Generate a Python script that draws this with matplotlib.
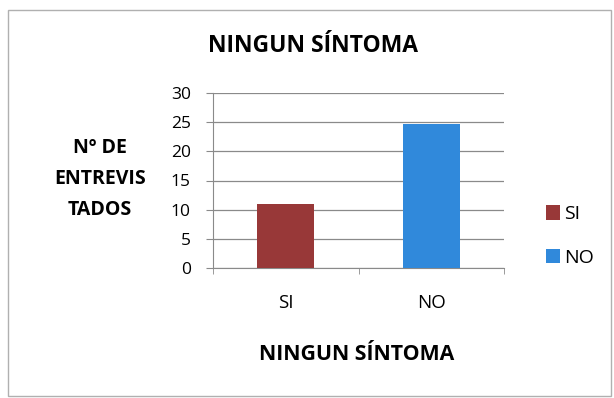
import matplotlib.pyplot as plt
from matplotlib.patches import Rectangle

plt.rcParams.update({'font.family': ['Open Sans', 'DejaVu Sans']})

# survey answers
categorias = ['SI', 'NO']
entrevistados = [11, 24.7]
colores = ['#983838', '#3089db']

fig = plt.figure(figsize=(6.14, 3.98), dpi=100)

# chart frame
fig.patches.append(Rectangle((8 / 614, 2 / 398), 603 / 614, 386 / 398,
                             transform=fig.transFigure, fill=False,
                             edgecolor='#b0b0b0', lw=1.0))

ax = fig.add_axes([213 / 614, 130 / 398, 291 / 614, 175 / 398])
x = range(len(categorias))
bars = ax.bar(x, entrevistados, width=0.39, color=colores, zorder=3)

ax.set_xlim(-0.5, 1.5)
ax.set_ylim(0, 30)
ax.set_yticks(range(0, 31, 5))
ax.grid(axis='y', color='#8a8a8a', lw=0.9, zorder=0)
for s in ['top', 'right']:
    ax.spines[s].set_visible(False)
ax.spines['left'].set_color('#8a8a8a')
ax.spines['bottom'].set_color('#8a8a8a')
ax.tick_params(axis='y', length=5, color='#8a8a8a', labelsize=12.5, pad=11)
ax.tick_params(axis='x', length=0, labelsize=13.5, pad=19)
ax.set_xticks(list(x))
ax.set_xticklabels(categorias)
ax.set_xticks([-0.5, 0.5, 1.5], minor=True)
ax.tick_params(axis='x', which='minor', length=4, color='#8a8a8a')

fig.text(313 / 614, 1 - 46 / 398, 'NINGUN SÍNTOMA', ha='center', va='center',
         fontsize=16.5, fontweight='bold')
fig.text(357 / 614, 1 - 355 / 398, 'NINGUN SÍNTOMA', ha='center',
         va='center', fontsize=15.3, fontweight='bold')
fig.text(100 / 614, 1 - 179 / 398, 'Nº DE\nENTREVIS\nTADOS', ha='center',
         va='center', fontsize=14, fontweight='bold', linespacing=1.75)

leg = ax.legend(bars, categorias, loc='center left',
                bbox_to_anchor=(536 / 614, 1 - 236 / 398),
                bbox_transform=fig.transFigure, frameon=False,
                fontsize=14, handlelength=0.75, handleheight=0.75,
                handletextpad=0.2, labelspacing=1.3, borderpad=0)

fig.savefig('out.png', dpi=100)
